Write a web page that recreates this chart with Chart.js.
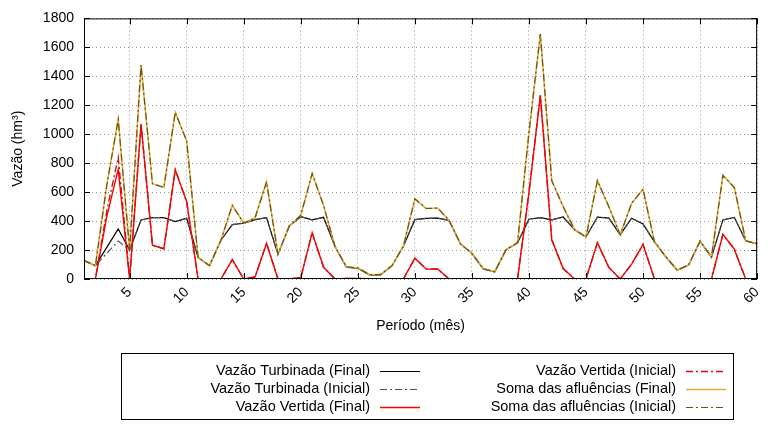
<!DOCTYPE html>
<html>
<head>
<meta charset="utf-8">
<script src="https://cdn.jsdelivr.net/npm/chart.js@4.4.1/dist/chart.umd.min.js"></script>
<style>
  html, body { margin: 0; padding: 0; background: #fff; }
  #wrap { width: 774px; height: 424px; }
</style>
</head>
<body>
<div id="wrap"><canvas id="grafico" width="774" height="424"></canvas></div>
<script>
// meses do horizonte
var meses = [1,2,3,4,5,6,7,8,9,10,11,12,13,14,15,16,17,18,19,20,
  21,22,23,24,25,26,27,28,29,30,31,32,33,34,35,36,37,38,39,40,
  41,42,43,44,45,46,47,48,49,50,51,52,53,54,55,56,57,58,59,60];

var turbFinal = [128,92,218,345,200,408,424,424,397,419,
  149,92,268,376,385,410,424,171,367,430,
  408,426,225,81,74,29,29,92,228,410,
  419,420,405,242,177,70,50,203,250,413,
  424,408,428,341,290,428,420,306,420,381,
  256,153,61,97,262,151,408,426,264,243];

var turbInicial = [128,92,178,262,200,408,424,424,397,419,
  149,92,268,376,385,410,424,171,367,430,
  408,426,225,81,74,29,29,92,228,410,
  419,420,405,242,177,70,50,203,250,413,
  424,408,428,341,290,428,420,306,420,381,
  256,153,61,97,262,151,408,426,264,243];

var vertFinal = [0,0,432,757,0,1070,234,209,754,534,
  0,0,0,133,0,14,247,0,0,10,
  320,81,0,3,3,2,2,0,0,144,
  68,70,0,0,0,0,0,0,0,597,
  1268,271,72,0,0,251,80,0,103,239,
  0,0,0,0,0,0,308,206,0,0];

var vertInicial = [0,0,472,840,0,1070,234,209,754,534,
  0,0,0,133,0,14,247,0,0,10,
  320,81,0,3,3,2,2,0,0,144,
  68,70,0,0,0,0,0,0,0,597,
  1268,271,72,0,0,251,80,0,103,239,
  0,0,0,0,0,0,308,206,0,0];

var somaFinal = [128,92,650,1102,200,1478,658,633,1151,953,
  149,92,268,509,385,424,671,171,367,440,
  728,507,225,84,77,31,31,92,228,554,
  487,490,405,242,177,70,50,203,250,1010,
  1692,679,500,341,290,679,500,306,523,620,
  256,153,61,97,262,151,716,632,264,243];

var somaInicial = [128,92,650,1102,200,1478,658,633,1151,953,
  149,92,268,509,385,424,671,171,367,440,
  728,507,225,84,77,31,31,92,228,554,
  487,490,405,242,177,70,50,203,250,1010,
  1692,679,500,341,290,679,500,306,523,620,
  256,153,61,97,262,151,716,632,264,243];

var xTicks = [5,10,15,20,25,30,35,40,45,50,55,60];
var yTicks = [0,200,400,600,800,1000,1200,1400,1600,1800];

var fonte = { family: "'Liberation Sans', Arial, sans-serif", size: 14 };

function serie(vals) {
  return vals.map(function (v, i) { return { x: meses[i], y: v }; });
}

function linha(label, vals, cor, dash, larg, ordem) {
  return {
    label: label,
    data: serie(vals),
    borderColor: cor,
    backgroundColor: cor,
    borderWidth: larg,
    borderDash: dash,
    pointRadius: 0,
    tension: 0,
    fill: false,
    order: ordem
  };
}

var datasets = [
  linha("Vazão Turbinada (Final)", turbFinal, "#000000", [], 1.2, 5),
  linha("Vazão Turbinada (Inicial)", turbInicial, "#505050", [7, 3, 2, 3], 1.2, 4),
  linha("Vazão Vertida (Final)", vertFinal, "#ff0000", [], 1.4, 3),
  linha("Vazão Vertida (Inicial)", vertInicial, "#d01010", [7, 3, 2, 3], 1.4, 2),
  linha("Soma das afluências (Final)", somaFinal, "#e0b040", [], 1.6, 1),
  linha("Soma das afluências (Inicial)", somaInicial, "#6a5214", [7, 3, 2, 3], 1.2, 0)
];

// moldura, marcas internas e legenda no estilo gnuplot
var moldura = {
  id: "moldura",
  afterDraw: function (chart) {
    var ctx = chart.ctx, a = chart.chartArea;
    var x = chart.scales.x, y = chart.scales.y;
    ctx.save();
    ctx.strokeStyle = "#000";
    ctx.lineWidth = 1;
    ctx.setLineDash([]);
    ctx.strokeRect(a.left + 0.5, a.top + 0.5, a.right - a.left - 1, a.bottom - a.top - 1);
    ctx.beginPath();
    xTicks.forEach(function (v) {
      var px = Math.round(x.getPixelForValue(v)) + 0.5;
      ctx.moveTo(px, a.bottom); ctx.lineTo(px, a.bottom - 6);
      ctx.moveTo(px, a.top); ctx.lineTo(px, a.top + 6);
    });
    yTicks.forEach(function (v) {
      var py = Math.round(y.getPixelForValue(v)) + 0.5;
      ctx.moveTo(a.left, py); ctx.lineTo(a.left + 6, py);
      ctx.moveTo(a.right, py); ctx.lineTo(a.right - 6, py);
    });
    ctx.stroke();

    // legenda
    ctx.strokeRect(121.5, 353.5, 612, 66);
    ctx.font = "14.5px 'Liberation Sans', Arial, sans-serif";
    ctx.fillStyle = "#000";
    ctx.textAlign = "right";
    ctx.textBaseline = "middle";
    var colTexto = [370, 676], colAmostra = [380, 686], linhas = [371, 389, 407];
    datasets.forEach(function (d, i) {
      var c = Math.floor(i / 3), r = i % 3;
      ctx.fillText(d.label, colTexto[c], linhas[r]);
      ctx.beginPath();
      ctx.strokeStyle = d.borderColor;
      ctx.lineWidth = d.borderWidth;
      ctx.setLineDash(d.borderDash);
      ctx.moveTo(colAmostra[c], linhas[r] + 0.5);
      ctx.lineTo(colAmostra[c] + 40, linhas[r] + 0.5);
      ctx.stroke();
    });
    ctx.restore();
  }
};

new Chart(document.getElementById("grafico"), {
  type: "line",
  data: { datasets: datasets },
  options: {
    responsive: false,
    animation: false,
    layout: { padding: { left: 0, right: 1, top: 12, bottom: 85 } },
    plugins: { legend: { display: false }, tooltip: { enabled: false } },
    scales: {
      x: {
        type: "linear",
        min: 1,
        max: 60,
        afterBuildTicks: function (s) { s.ticks = xTicks.map(function (v) { return { value: v }; }); },
        afterFit: function (s) { s.height = 60; },
        ticks: { font: fonte, color: "#000", minRotation: 45, maxRotation: 45, padding: 5, autoSkip: false,
          callback: function (v) { return String(v); } },
        grid: { color: "#9a9a9a", lineWidth: 1, drawTicks: false },
        border: { display: false, dash: [1, 3] },
        title: { display: true, text: "Período (mês)", font: fonte, color: "#000", padding: { top: 0, bottom: 4 } }
      },
      y: {
        min: 0,
        max: 1800,
        afterBuildTicks: function (s) { s.ticks = yTicks.map(function (v) { return { value: v }; }); },
        afterFit: function (s) { s.width = 84; },
        ticks: { font: fonte, color: "#000", padding: 10,
          callback: function (v) { return String(v); } },
        grid: { color: "#9a9a9a", lineWidth: 1, drawTicks: false },
        border: { display: false, dash: [1, 3] },
        title: { display: true, text: "Vazão (hm³)", font: fonte, color: "#000", padding: { top: 10, bottom: 0 } }
      }
    }
  },
  plugins: [moldura]
});
</script>
</body>
</html>
